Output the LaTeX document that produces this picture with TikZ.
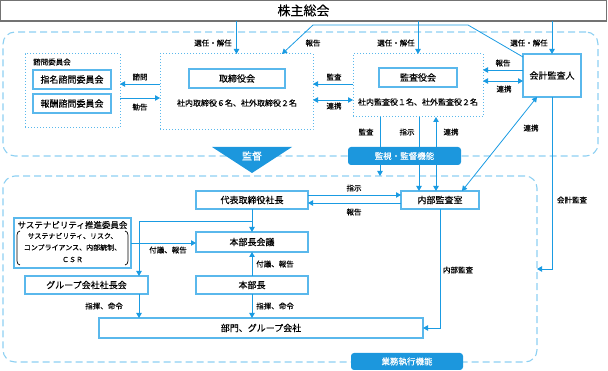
\documentclass[tikz,border=0pt]{standalone}
\usepackage{fontspec}
\setmainfont{Noto Sans CJK JP}[FakeBold=0.25]
\usetikzlibrary{arrows.meta,calc}
\definecolor{lineblue}{HTML}{1A9BE2}
\definecolor{boxblue}{HTML}{5AB8EC}
\definecolor{frameblue}{HTML}{8DD0F2}
\definecolor{fillblue}{HTML}{1C97DD}
\newcommand{\fsz}[1]{\fontsize{#1}{#1}\selectfont}

\begin{document}
\begin{tikzpicture}[x=1pt,y=-1pt,
 box/.style={draw=boxblue,line width=1.2pt,fill=white,inner sep=0pt,outer sep=0pt,font=\fsz{9}},
 grp/.style={draw=boxblue,line width=1pt,dotted,inner sep=0pt,outer sep=0pt},
 areaframe/.style={draw=frameblue,line width=1.1pt,dash pattern=on 7pt off 4pt,rounded corners=12pt,inner sep=0pt,outer sep=0pt},
 tag/.style={fill=fillblue,rounded corners=3pt,text=white,inner sep=0pt,font=\fsz{8.5}},
 lbl/.style={font=\fsz{7.5},inner sep=0pt},
 arr/.style={draw=lineblue,line width=0.8pt,-{Triangle[length=5pt,width=5.5pt]}},
 darr/.style={arr,{Triangle[length=5pt,width=5.5pt]}-{Triangle[length=5pt,width=5.5pt]}},
 plainline/.style={draw=lineblue,line width=0.8pt}]
\useasboundingbox (0,0) rectangle (608,371);

% frames
\node[areaframe,minimum width=595,minimum height=124] (supframe) at (300.5,94) {};
\node[areaframe,minimum width=534,minimum height=186] (execframe) at (270,269) {};

% shareholders
\node[draw=black!55,line width=1.2pt,fill=white,minimum width=606,minimum height=21,inner sep=0pt,outer sep=0pt,font=\fsz{13}] (kabu) at (303.5,10.5) {株主総会};

% supervision area
\node[grp,minimum width=95,minimum height=74] (shimongrp) at (72.5,91) {};
\node[lbl,anchor=west] (shimonlbl) at (33,62) {諮問委員会};
\node[box,minimum width=78,minimum height=19] (shimei) at (72,79.5) {指名諮問委員会};
\node[box,minimum width=78,minimum height=19] (hoshu) at (72,103.5) {報酬諮問委員会};
\node[grp,minimum width=153,minimum height=76] (torigrp) at (236.5,92) {};
\node[box,minimum width=96,minimum height=19] (tori) at (237,78.5) {取締役会};
\node[lbl,font=\fsz{8}] (torimem) at (237,103) {社内取締役６名、社外取締役２名};
\node[grp,minimum width=130,minimum height=63] (kansagrp) at (418,85.5) {};
\node[box,minimum width=78,minimum height=19] (kansa) at (418,77.5) {監査役会};
\node[lbl,font=\fsz{8}] (kansamem) at (418,102) {社内監査役１名、社外監査役２名};
\node[box,minimum width=58,minimum height=43] (kaikei) at (552,75.5) {会計監査人};

% execution area
\node[box,minimum width=112,minimum height=18] (daihyo) at (252,200) {代表取締役社長};
\node[box,minimum width=78,minimum height=18] (naibu) at (440,200) {内部監査室};
\node[box,minimum width=117,minimum height=50] (sustain) at (72.5,243) {};
\node[lbl,font=\fsz{8.5}] (sustitle) at (72.5,225) {サステナビリティ推進委員会};
\node[lbl,font=\fsz{7}] (susline1) at (72.5,236) {サステナビリティ、リスク、};
\node[lbl,font=\fsz{7}] (susline2) at (72.5,247.5) {コンプライアンス、内部統制、};
\node[lbl,font=\fsz{7}] (susline3) at (72.5,259.5) {ＣＳＲ};
\draw[line width=0.7pt] (20,231) to[out=180,in=90] (17,235) -- (17,261) to[out=-90,in=180] (20,265);
\draw[line width=0.7pt] (125,231) to[out=0,in=90] (128,235) -- (128,261) to[out=-90,in=0] (125,265);
\node[box,minimum width=112,minimum height=20] (kaigi) at (252,242) {本部長会議};
\node[box,minimum width=112,minimum height=18] (honbucho) at (252,285) {本部長};
\node[box,minimum width=123,minimum height=18] (groupsha) at (86.5,285) {グループ会社社長会};
\node[box,minimum width=324,minimum height=20] (bumon) at (261,328) {部門、グループ会社};

% connectors, upper
\draw[arr] (kabu.south -| torigrp.north) -- (torigrp.north);
\draw[arr] (kabu.south -| kansagrp.north) -- (kansagrp.north);
\draw[arr] (kabu.south -| kaikei.north) -- (kaikei.north);
\draw[arr] ($(kaikei.north west)+(0,3)$) -- (468,25) -- (313,25) -- ($(torigrp.north east)+(-31,0)$);
\draw[arr] ($(torigrp.west)+(0,-8)$) -- ($(shimongrp.east)+(0,-7)$);
\draw[arr] ($(shimongrp.east)+(0,7)$) -- ($(torigrp.west)+(0,6)$);
\draw[arr] ($(kansagrp.west)+(0,-1.5)$) -- ($(torigrp.east)+(0,-8)$);
\draw[darr] ($(torigrp.east)+(0,8)$) -- ($(kansagrp.west)+(0,14.5)$);
\draw[arr] ($(kaikei.west)+(0,-5.5)$) -- ($(kansagrp.east)+(0,-15.5)$);
\draw[darr] ($(kansagrp.east)+(0,-4.5)$) -- ($(kaikei.west)+(0,5.5)$);
\draw[arr] ($(kansagrp.south)+(-38,0)$) coordinate (kd) -- (kd |- execframe.north);
\draw[arr] ($(kansagrp.south)+(1,0)$) -- ($(naibu.north)+(-21,0)$);
\draw[darr] ($(naibu.north)+(-4,0)$) -- ($(kansagrp.south)+(18,0)$);
\draw[darr] ($(naibu.north)+(22,0)$) -- ($(kaikei.south)+(-15,0)$);
\draw[arr] (kaikei.south) |- (execframe.east);

% connectors, lower
\draw[arr] ($(daihyo.east)+(0,-5)$) -- ($(naibu.west)+(0,-5)$);
\draw[arr] ($(naibu.west)+(0,3)$) -- ($(daihyo.east)+(0,3)$);
\draw[arr] (daihyo.south) -- (kaigi.north);
\coordinate (branch) at ($(daihyo.south)+(0,12)$);
\draw[arr] (branch) -| ($(groupsha.north)+(52.5,0)$);
\draw[arr] (sustain.east) -- (sustain.east -| kaigi.west);
\draw[arr] (honbucho.north) -- (kaigi.south);
\draw[arr] ($(groupsha.south)+(52.5,0)$) coordinate (gs) -- (gs |- bumon.north);
\draw[arr] (honbucho.south) -- (honbucho.south |- bumon.north);
\draw[arr] (naibu.south) |- (bumon.east);

% labels
\node[lbl] at (213,43) {選任・解任}; \node[lbl] at (396,43) {選任・解任}; \node[lbl] at (529,43) {選任・解任};
\node[lbl] at (313,43) {報告};
\node[lbl] at (140,77) {諮問}; \node[lbl] at (140,107) {勧告};
\node[lbl] at (334,77) {監査}; \node[lbl] at (334,106) {連携};
\node[lbl] at (503,63) {報告}; \node[lbl] at (504,89) {連携};
\node[lbl] at (366,132) {監査}; \node[lbl] at (407,132) {指示}; \node[lbl] at (451,132) {連携};
\node[lbl] at (531,128) {連携};
\node[lbl] at (572,200) {会計監査};
\node[lbl] at (354,188) {指示}; \node[lbl] at (354,212) {報告};
\node[lbl] at (168,250) {付議、報告}; \node[lbl] at (275,264) {付議、報告};
\node[lbl] at (104,306) {指揮、命令}; \node[lbl] at (275,306) {指揮、命令};
\node[lbl] at (458,270) {内部監査};

% tags on the frames
\fill[fillblue] (212,147) -- (292,147) -- (252,173) -- cycle;
\node[text=white,font=\fsz{10},inner sep=0pt] (kantoku) at (252,156) {監督};
\node[tag,minimum width=113,minimum height=18] (kanshi) at (404.5,156) {監視・監督機能};
\node[tag,minimum width=112,minimum height=17] (gyomu) at (407,361.5) {業務執行機能};
\end{tikzpicture}
\end{document}
